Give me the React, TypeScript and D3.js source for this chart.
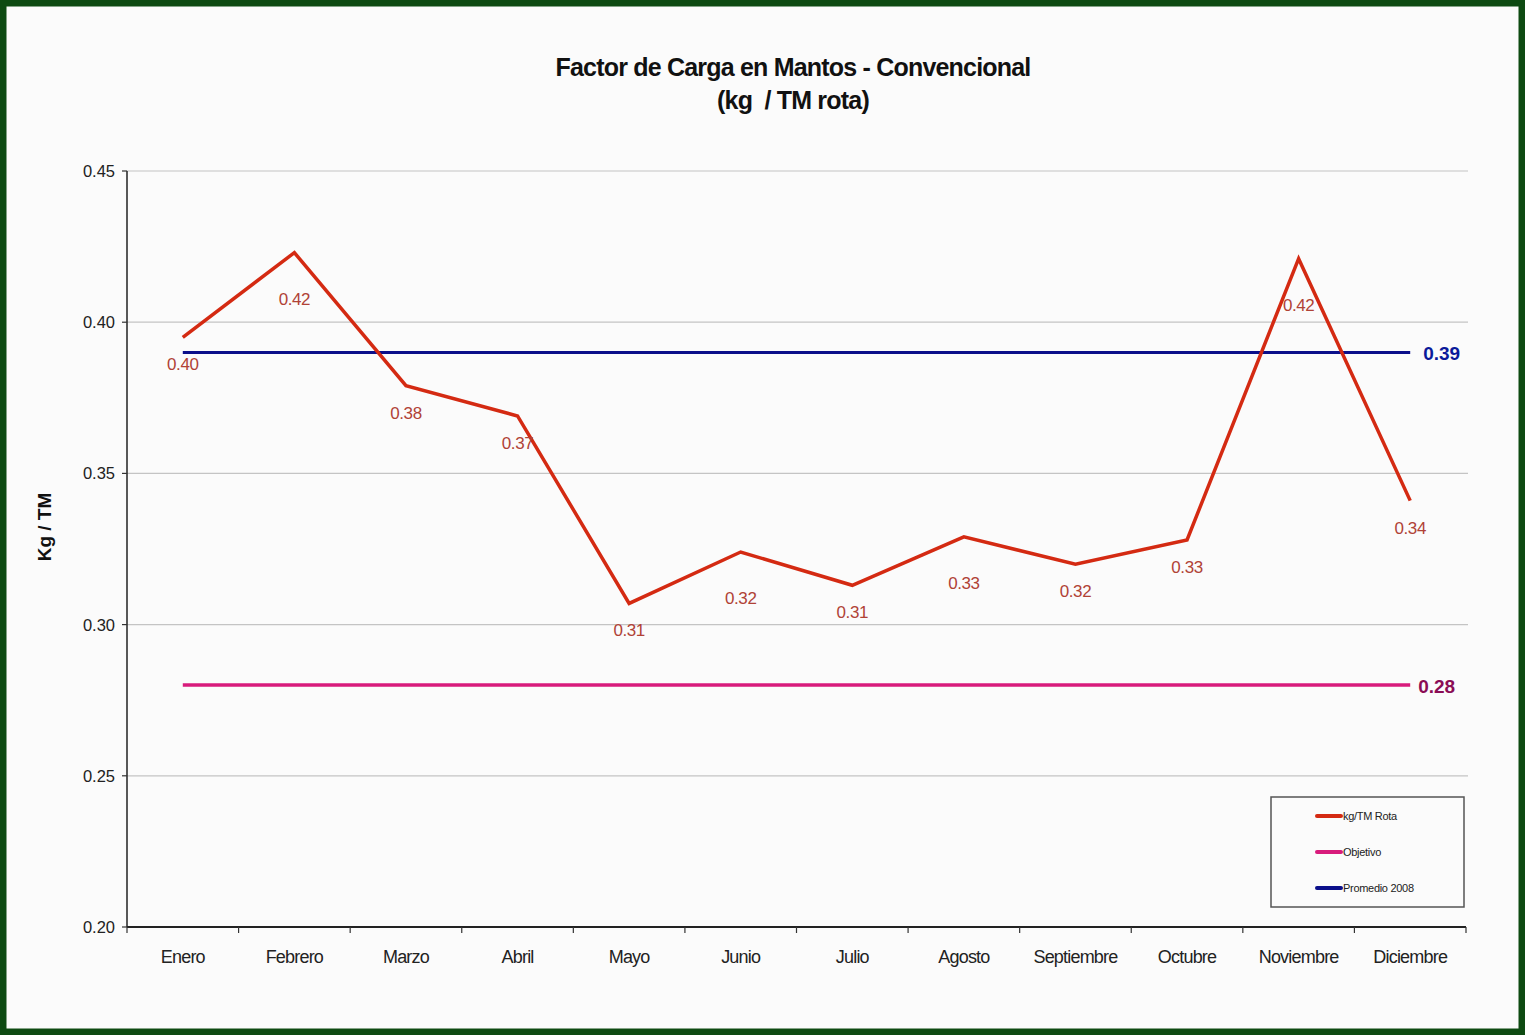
import React from "react";
import * as d3 from "d3";

const months = [
  "Enero", "Febrero", "Marzo", "Abril", "Mayo", "Junio",
  "Julio", "Agosto", "Septiembre", "Octubre", "Noviembre", "Diciembre",
];
const kgPorTm = [0.395, 0.423, 0.379, 0.369, 0.307, 0.324, 0.313, 0.329, 0.32, 0.328, 0.421, 0.341];
const objetivo = 0.28;
const promedio2008 = 0.39;
const yTicks = [0.2, 0.25, 0.3, 0.35, 0.4, 0.45];
const legendItems = [
  { label: "kg/TM Rota", color: "#d42a12" },
  { label: "Objetivo", color: "#d81b7c" },
  { label: "Promedio 2008", color: "#0b0f8a" },
];

const W = 1525;
const H = 1035;
const plot = { left: 127, right: 1466, top: 171, bottom: 927 };

export default function App() {
  const x = d3.scaleBand<string>().domain(months).range([plot.left, plot.right]);
  const y = d3.scaleLinear().domain([0.2, 0.45]).range([plot.bottom, plot.top]);
  const cx = (m: string) => (x(m) ?? 0) + x.bandwidth() / 2;
  const first = cx(months[0]);
  const last = cx(months[months.length - 1]);

  const line = d3
    .line<number>()
    .x((_, i) => cx(months[i]))
    .y((d) => y(d));

  // labels sit below each point; at a peak they drop further to clear the line
  const isPeak = (i: number) =>
    i > 0 && i < kgPorTm.length - 1 && kgPorTm[i] > kgPorTm[i - 1] && kgPorTm[i] > kgPorTm[i + 1];

  const font = "'Liberation Sans', Arial, sans-serif";
  const boundaries = months.map((m) => x(m) ?? 0).concat([plot.right]);

  return (
    <svg
      width={W}
      height={H}
      style={{ position: "absolute", left: 0, top: 0, display: "block" }}
      fontFamily={font}
    >
      <rect x={0} y={0} width={W} height={H} fill="#fbfbfb" />
      <rect x={3} y={3} width={W - 6} height={H - 6} fill="none" stroke="#0e4a12" strokeWidth={7} />

      {/* title */}
      <text x={793} y={76} textAnchor="middle" fontSize={25} fontWeight="bold" fill="#111" letterSpacing={-0.8}>
        Factor de Carga en Mantos - Convencional
      </text>
      <text
        x={793}
        y={109}
        textAnchor="middle"
        fontSize={25}
        fontWeight="bold"
        fill="#111"
        letterSpacing={-0.8}
        style={{ whiteSpace: "pre" }}
      >
        {"(kg  / TM rota)"}
      </text>

      {/* grid */}
      {yTicks.filter((t) => t > 0.2).map((t) => (
        <line key={t} x1={plot.left} x2={plot.right + 2} y1={y(t)} y2={y(t)} stroke="#c4c4c4" strokeWidth={1.2} />
      ))}

      {/* y axis */}
      <line x1={plot.left} x2={plot.left} y1={plot.top} y2={plot.bottom} stroke="#222" strokeWidth={1.5} />
      {yTicks.map((t) => (
        <g key={t}>
          <line x1={plot.left - 5} x2={plot.left} y1={y(t)} y2={y(t)} stroke="#333" strokeWidth={1.2} />
          <text x={115} y={y(t) + 6} textAnchor="end" fontSize={16.5} fill="#222">
            {t.toFixed(2)}
          </text>
        </g>
      ))}
      <text
        transform={`translate(51, 527) rotate(-90)`}
        textAnchor="middle"
        fontSize={19}
        fontWeight="bold"
        fill="#111"
      >
        Kg / TM
      </text>

      {/* x axis */}
      <line x1={plot.left} x2={plot.right} y1={plot.bottom} y2={plot.bottom} stroke="#222" strokeWidth={2} />
      {boundaries.map((b, i) => (
        <line key={i} x1={b} x2={b} y1={plot.bottom} y2={plot.bottom + 6} stroke="#333" strokeWidth={1.2} />
      ))}
      {months.map((m) => (
        <text key={m} x={cx(m)} y={963} textAnchor="middle" fontSize={18} fill="#222" letterSpacing={-0.8}>
          {m}
        </text>
      ))}

      {/* reference lines */}
      <line x1={first} x2={last} y1={y(promedio2008)} y2={y(promedio2008)} stroke="#0b0f8a" strokeWidth={3} />
      <text x={last + 13} y={y(promedio2008) + 8} fontSize={19} fontWeight="bold" fill="#0b1a9a">
        {promedio2008.toFixed(2)}
      </text>
      <line x1={first} x2={last} y1={y(objetivo)} y2={y(objetivo)} stroke="#d81b7c" strokeWidth={3.5} />
      <text x={last + 8} y={y(objetivo) + 8} fontSize={19} fontWeight="bold" fill="#8a0c55">
        {objetivo.toFixed(2)}
      </text>

      {/* series */}
      <path d={line(kgPorTm) ?? ""} fill="none" stroke="#d42a12" strokeWidth={3.5} strokeLinejoin="miter" />
      {kgPorTm.map((v, i) => (
        <text
          key={months[i]}
          x={cx(months[i])}
          y={y(v) + (isPeak(i) ? 52 : 33)}
          textAnchor="middle"
          fontSize={17}
          fill="#b04236"
          letterSpacing={-0.4}
        >
          {v.toFixed(2)}
        </text>
      ))}

      {/* legend */}
      <rect x={1271} y={797} width={193} height={110} fill="#fbfbfb" stroke="#555" strokeWidth={1.5} />
      {legendItems.map((it, i) => {
        const ly = 816 + i * 36;
        return (
          <g key={it.label}>
            <line x1={1317} x2={1341} y1={ly} y2={ly} stroke={it.color} strokeWidth={4} strokeLinecap="round" />
            <text x={1343} y={ly + 4} fontSize={11} fill="#222" letterSpacing={-0.3}>
              {it.label}
            </text>
          </g>
        );
      })}
    </svg>
  );
}
